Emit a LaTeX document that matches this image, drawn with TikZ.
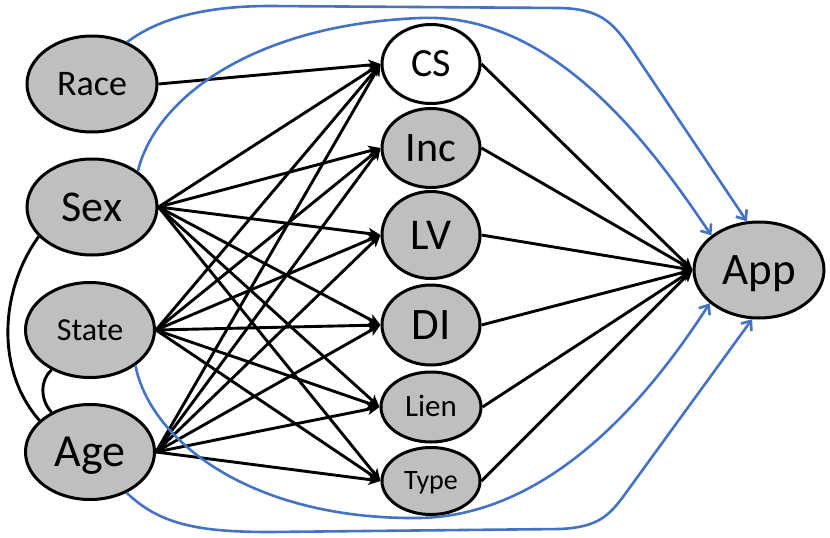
\documentclass[tikz,border=0pt]{standalone}
\usepackage{fontspec}
\setmainfont{Carlito}
\usetikzlibrary{shapes.geometric,arrows.meta}
\definecolor{nodegray}{RGB}{191,191,191}
\definecolor{pblue}{RGB}{68,114,196}
\begin{document}
\begin{tikzpicture}[x=1pt,y=-1pt,
  var/.style={ellipse, draw=black, line width=3pt, fill=nodegray, inner sep=0pt, text depth=0pt},
  white var/.style={var, fill=white},
  fs/.code={\pgfmathsetmacro\tmpth{0.64*#1}\edef\tmpfs{\noexpand\tikzset{font=\noexpand\fontsize{#1}{#1}\noexpand\selectfont, text height=\tmpth pt}}\tmpfs},
  dep/.style={line width=2.9pt, -{Stealth[length=12pt,width=11pt,inset=3pt]}},
  blink/.style={draw=pblue, line width=2.6pt, -{Straight Barb[length=8pt,width=13pt]}},
  assoc/.style={line width=2.9pt}
]
\useasboundingbox (0,0) rectangle (830,538);

% left column
\node[var, fs=36, minimum width=130pt, minimum height=96pt] (race)  at (92,84)  {Race};
\node[var, fs=44, minimum width=130pt, minimum height=96pt] (sex)   at (92,207) {Sex};
\node[var, fs=32, minimum width=129pt, minimum height=95pt] (state) at (90,330) {State};
\node[var, fs=46, minimum width=129pt, minimum height=95pt] (age)   at (90,452) {Age};

% middle column
\node[white var, fs=40, minimum width=98pt, minimum height=79pt] (cs)   at (431,64)  {CS};
\node[var, fs=42, minimum width=98pt, minimum height=79pt] (inc)  at (431,148) {Inc};
\node[var, fs=44, minimum width=98pt, minimum height=87pt] (lv)   at (431,235) {LV};
\node[var, fs=45, minimum width=98pt, minimum height=80pt] (di)   at (431,325) {DI};
\node[var, fs=31, minimum width=100pt, minimum height=70pt] (lien) at (431,407) {Lien};
\node[var, fs=28, minimum width=98pt, minimum height=67pt] (type) at (431,481) {Type};

% right
\node[var, fs=45, minimum width=130pt, minimum height=96pt] (app) at (759,270) {App};

% black arrows
\draw[dep] (race.east) -- (cs.west);
\foreach \s in {sex,state,age}{
  \foreach \t in {cs,inc,lv,di,lien,type}{
    \draw[dep] (\s.east) -- (\t.west);
  }
}
\foreach \t in {cs,inc,lv,di,lien,type}{
  \draw[dep] (\t.east) -- (app.west);
}

% undirected links on the left
\draw[assoc] (sex.209) .. controls (0,290) and (-5,370) .. (age.148);
\draw[assoc] (state.226) .. controls (40,380) and (40,400) .. (age.134);

% blue arcs to App
\draw[blink] (race.50) .. controls (150,25) and (190,6) .. (270,6) -- (560,8) .. controls (600,9) and (612,22) .. (630,47) -- (app.104);
\draw[blink] (sex.38) .. controls (155,100) and (250,25) .. (420,18) .. controls (560,12) and (660,160) .. (app.144);
\draw[blink] (state.-38) .. controls (150,440) and (250,520) .. (420,518) .. controls (560,515) and (660,380) .. (app.214);
\draw[blink] (age.-48) .. controls (160,525) and (200,532) .. (270,532) -- (560,529) .. controls (600,527) and (610,515) .. (628,490) -- (app.262);
\end{tikzpicture}
\end{document}
